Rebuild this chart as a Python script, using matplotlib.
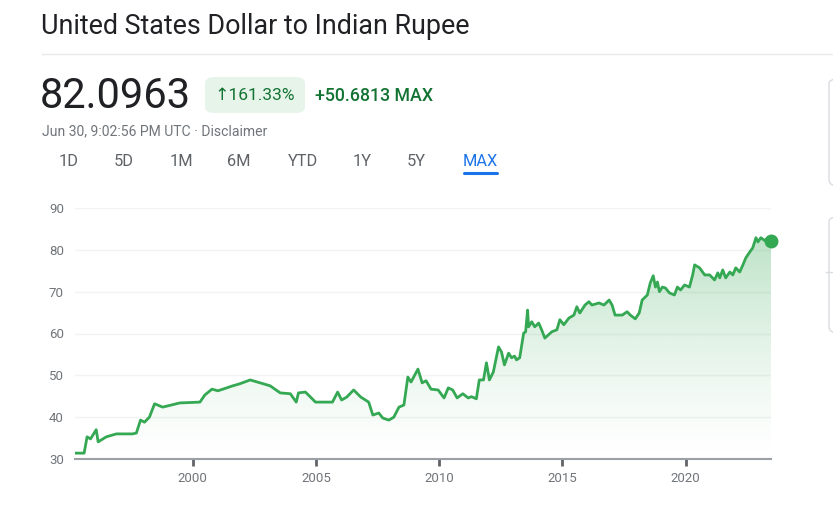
"""
Recreate the Google Finance USD -> INR "MAX" chart as out.png.
"""

import numpy as np
import matplotlib
matplotlib.use('Agg')
import matplotlib.pyplot as plt
from matplotlib.patches import FancyBboxPatch, Polygon
from matplotlib.lines import Line2D

plt.rcParams['font.family'] = ['Roboto', 'DejaVu Sans']

# -----------------------------------------------------------------------
# Data
# -----------------------------------------------------------------------
years = [
    1995.22, 1995.59, 1995.71, 1995.85, 1996.08, 1996.16, 1996.49, 1996.90,
    1997.55, 1997.71, 1997.88, 1998.04, 1998.24, 1998.45, 1998.78, 1999.47,
    1999.88, 2000.29, 2000.49, 2000.78, 2001.02, 2001.63, 2001.92, 2002.33,
    2002.73, 2003.14, 2003.55, 2003.96, 2004.20, 2004.29, 2004.57, 2004.78,
    2004.98, 2005.67, 2005.88, 2006.04, 2006.25, 2006.53, 2006.82, 2007.14,
    2007.31, 2007.55, 2007.71, 2007.96, 2008.16, 2008.37, 2008.57, 2008.73,
    2008.86, 2009.14, 2009.31, 2009.47, 2009.67, 2009.96, 2010.20, 2010.37,
    2010.55, 2010.73, 2010.96, 2011.18, 2011.31, 2011.51, 2011.63, 2011.80,
    2011.92, 2012.04, 2012.20, 2012.41, 2012.53, 2012.65, 2012.82, 2012.94,
    2013.06, 2013.14, 2013.27, 2013.43, 2013.51, 2013.59, 2013.63, 2013.76,
    2013.88, 2014.04, 2014.16, 2014.29, 2014.57, 2014.78, 2014.90, 2015.06,
    2015.27, 2015.47, 2015.59, 2015.71, 2015.92, 2016.08, 2016.20, 2016.49,
    2016.69, 2016.90, 2017.02, 2017.14, 2017.43, 2017.63, 2017.76, 2017.96,
    2018.12, 2018.24, 2018.45, 2018.57, 2018.69, 2018.78, 2018.86, 2018.94,
    2019.06, 2019.18, 2019.35, 2019.55, 2019.67, 2019.80, 2019.96, 2020.16,
    2020.29, 2020.37, 2020.57, 2020.78, 2020.98, 2021.18, 2021.31, 2021.39,
    2021.51, 2021.63, 2021.80, 2021.92, 2022.04, 2022.20, 2022.33, 2022.45,
    2022.61, 2022.73, 2022.86, 2022.94, 2023.06, 2023.22, 2023.35, 2023.47,
]
rates = [
    31.4, 31.4, 35.3, 34.8, 37.0, 34.1, 35.3, 36.0,
    36.0, 36.2, 39.3, 38.8, 40.0, 43.2, 42.4, 43.4,
    43.5, 43.6, 45.3, 46.7, 46.3, 47.5, 48.0, 48.9,
    48.2, 47.5, 45.8, 45.6, 43.6, 45.8, 46.0, 44.8,
    43.6, 43.6, 46.0, 44.1, 44.8, 46.5, 44.8, 43.6,
    40.5, 41.0, 39.8, 39.3, 40.0, 42.4, 42.9, 49.6,
    48.4, 51.5, 48.2, 48.7, 46.7, 46.5, 44.6, 47.0,
    46.5, 44.6, 45.6, 44.6, 44.9, 44.4, 48.9, 48.9,
    53.0, 48.9, 50.8, 56.8, 55.6, 52.5, 55.3, 54.2,
    54.6, 53.7, 54.2, 60.1, 60.4, 65.6, 61.6, 62.8,
    61.6, 62.5, 60.9, 58.9, 60.4, 60.9, 63.3, 62.1,
    63.7, 64.4, 66.4, 64.9, 66.8, 67.6, 66.8, 67.3,
    66.8, 68.0, 66.8, 64.4, 64.4, 65.2, 64.4, 63.5,
    64.9, 68.0, 69.2, 72.1, 73.8, 71.1, 72.3, 70.0,
    71.1, 70.9, 69.7, 69.2, 71.1, 70.4, 71.6, 71.1,
    74.0, 76.4, 75.7, 74.0, 74.0, 72.8, 74.5, 73.3,
    75.2, 73.3, 74.7, 74.0, 75.7, 74.7, 76.4, 78.1,
    79.5, 80.5, 82.9, 81.9, 82.9, 82.2, 82.9, 82.0963,
]

y_ticks = [30, 40, 50, 60, 70, 80, 90]
x_ticks = [2000, 2005, 2010, 2015, 2020]
tabs = ['1D', '5D', '1M', '6M', 'YTD', '1Y', '5Y', 'MAX']

GREEN = '#34a853'
DARK_GREEN = '#137333'
GREY = '#70757a'
TEXT = '#202124'
BLUE = '#1a73e8'

W, H = 833, 507
fig = plt.figure(figsize=(W / 100, H / 100), dpi=100)
fig.patch.set_facecolor('white')


def fx(px):
    return px / W


def fy(py):
    return 1 - py / H


# -----------------------------------------------------------------------
# Header
# -----------------------------------------------------------------------
fig.text(fx(41), fy(27), 'United States Dollar to Indian Rupee',
         fontsize=19.4, color=TEXT, va='center', ha='left')
fig.add_artist(Line2D([fx(42), 1], [fy(54), fy(54)], color='#e8eaed', lw=1))

fig.text(fx(40), fy(97), '82.0963', fontsize=30, color=TEXT,
         va='center', ha='left')
badge = FancyBboxPatch((fx(205), fy(113)), fx(100), 36 / H,
                       boxstyle='round,pad=0,rounding_size=0.012',
                       transform=fig.transFigure, facecolor='#e6f4ea',
                       edgecolor='none')
fig.add_artist(badge)
fig.text(fx(255), fy(96), '\u2191161.33%', fontsize=12.5, color=DARK_GREEN,
         va='center', ha='center')
fig.text(fx(315), fy(96), '+50.6813 MAX', fontsize=12.8, color=DARK_GREEN,
         va='center', ha='left', fontweight='medium')
fig.text(fx(42), fy(131), 'Jun 30, 9:02:56 PM UTC \u00b7 Disclaimer',
         fontsize=10.1, color=GREY, va='center', ha='left')

tab_x = [69, 124, 181, 239, 303, 362, 416, 480]
for name, x in zip(tabs, tab_x):
    col = BLUE if name == 'MAX' else '#5f6368'
    fig.text(fx(x), fy(161), name, fontsize=11.8, color=col,
             va='center', ha='center')
fig.add_artist(Line2D([fx(464), fx(497)], [fy(173), fy(173)],
                      color=BLUE, lw=2.2, solid_capstyle='round'))

# cut-off side cards on the right
for top, bot in [(77, 186), (215, 333)]:
    card = FancyBboxPatch((fx(829), fy(bot)), fx(40), (bot - top) / H,
                          boxstyle='round,pad=0,rounding_size=0.012',
                          transform=fig.transFigure, facecolor='none',
                          edgecolor='#dadce0', lw=1)
    fig.add_artist(card)
fig.add_artist(Line2D([fx(826), 1], [fy(272), fy(272)], color='#dadce0', lw=1))

# -----------------------------------------------------------------------
# Chart
# -----------------------------------------------------------------------
ax = fig.add_axes([fx(75), fy(459), fx(771) - fx(75), (459 - 208) / H])
x0, x1 = years[0], years[-1]
ax.set_xlim(x0, x1)
ax.set_ylim(30, 90)

# gradient area under the line
grad = np.linspace(0, 1, 256).reshape(-1, 1)
rgba = np.zeros((256, 1, 4))
rgba[..., :3] = matplotlib.colors.to_rgb(GREEN)
rgba[..., 3] = 0.32 * grad[::-1] ** 1.3
img = ax.imshow(rgba, extent=[x0, x1, 30, 83], aspect='auto',
                origin='upper', zorder=1)
poly = Polygon(np.column_stack([[x0] + years + [x1], [30] + rates + [30]]),
               closed=True, facecolor='none', edgecolor='none')
ax.add_patch(poly)
img.set_clip_path(poly)

ax.plot(years, rates, color=GREEN, lw=2.0, zorder=3, solid_joinstyle='round')
ax.plot([years[-1]], [rates[-1]], 'o', color=GREEN, ms=9, zorder=4,
        clip_on=False)

for y in y_ticks[1:]:
    ax.axhline(y, color='#f1f3f4', lw=1, zorder=0)

for side in ['top', 'right', 'left']:
    ax.spines[side].set_visible(False)
ax.spines['bottom'].set_color('#9aa0a6')
ax.spines['bottom'].set_linewidth(1.5)

ax.set_yticks(y_ticks)
ax.set_yticklabels([str(v) for v in y_ticks])
ax.set_xticks(x_ticks)
ax.set_xticklabels([str(v) for v in x_ticks])
ax.tick_params(axis='y', length=0, pad=8, labelsize=9.5, labelcolor=GREY)
ax.tick_params(axis='x', length=5, width=2, color='#5f6368', pad=4,
               labelsize=9.5, labelcolor=GREY, direction='out')

fig.savefig('out.png', dpi=100, facecolor='white')
